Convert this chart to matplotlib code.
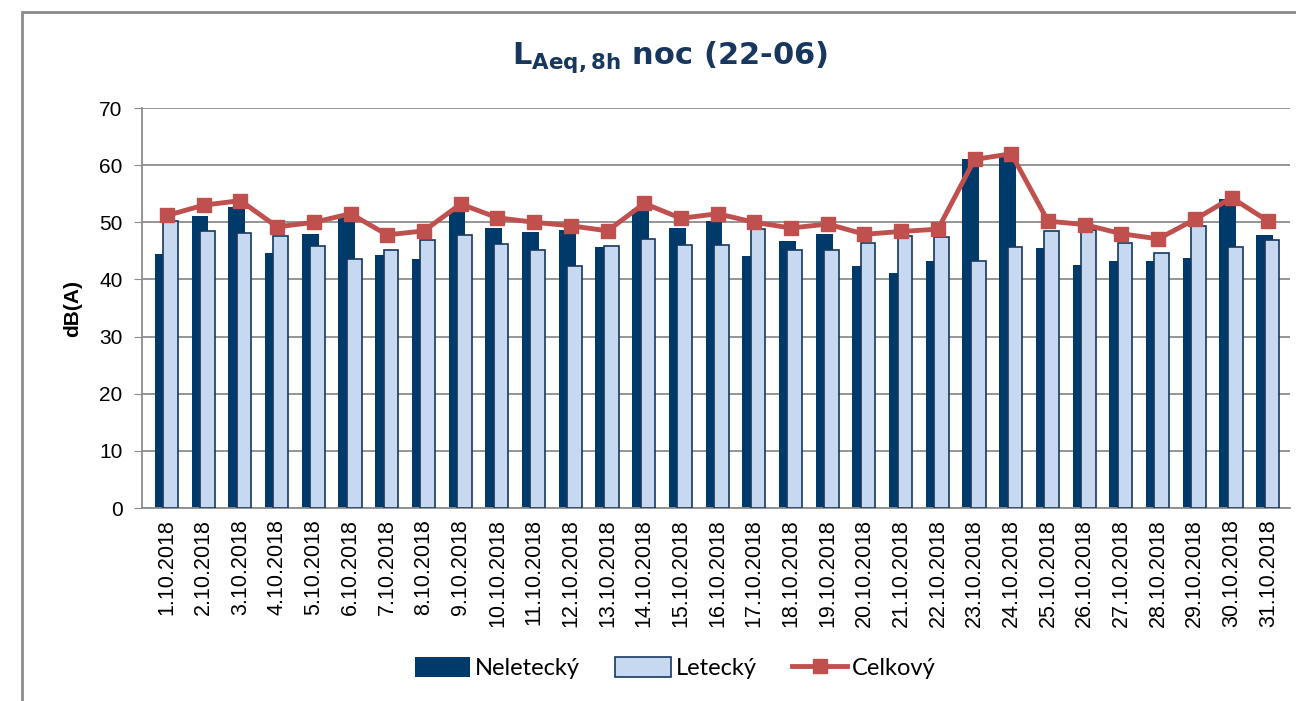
import matplotlib
matplotlib.use("Agg")
import matplotlib.pyplot as plt
from matplotlib.patches import Rectangle
import numpy as np

# dates on the category axis
dates = ["%d.10.2018" % d for d in range(1, 32)]

# LAeq,8h night values, dB(A)
neletecky = [44.5, 51.1, 52.7, 44.6, 48.0, 51.0, 44.3, 43.6, 52.0, 49.0,
             48.3, 48.6, 45.7, 52.3, 49.0, 50.3, 44.1, 46.8, 48.0, 42.3,
             41.2, 43.3, 61.0, 62.0, 45.5, 42.5, 43.2, 43.3, 43.7, 54.0, 47.7]
letecky = [50.2, 48.5, 48.2, 47.6, 45.8, 43.5, 45.2, 46.9, 47.8, 46.2,
           45.2, 42.3, 45.8, 47.0, 46.0, 46.0, 48.8, 45.2, 45.2, 46.4,
           47.6, 47.4, 43.2, 45.7, 48.5, 48.7, 46.4, 44.7, 49.3, 45.6, 46.9]
celkovy = [51.2, 53.0, 53.8, 49.2, 50.0, 51.5, 47.8, 48.5, 53.2, 50.8,
           50.0, 49.4, 48.5, 53.3, 50.7, 51.5, 50.0, 49.0, 49.7, 47.9,
           48.4, 48.8, 61.0, 62.0, 50.2, 49.6, 48.0, 47.1, 50.5, 54.3, 50.2]

dark = "#003A6B"
light = "#C6D9F1"
red = "#C0504D"
grid = "#8C8C8C"

fig = plt.figure(figsize=(12.96, 7.01), dpi=100)
ax = fig.add_axes([0.1096, 0.2753, 0.886, 0.5706])

x = np.arange(len(dates))
b1 = ax.bar(x - 0.1, neletecky, width=0.46, color=dark, zorder=2, label="Neletecký")
b2 = ax.bar(x + 0.1, letecky, width=0.40, color=light, edgecolor="#17375E",
            linewidth=1.2, zorder=3, label="Letecký")
l1, = ax.plot(x, celkovy, color=red, lw=3.5, marker="s", ms=10, zorder=4,
              label="Celkový")

ax.set_ylim(0, 70)
ax.set_yticks(range(0, 71, 10))
ax.set_xlim(-0.68, 30.6)
ax.yaxis.grid(True, color=grid, lw=1.3, zorder=0)
ax.set_axisbelow(True)
for s in ["top", "right"]:
    ax.spines[s].set_visible(False)
ax.spines["left"].set_color(grid)
ax.spines["left"].set_linewidth(1.3)
ax.spines["bottom"].set_color(grid)
ax.spines["bottom"].set_linewidth(1.3)

ax.set_xticks(x)
ax.set_xticklabels(dates, rotation=90, fontsize=15.5, family="Liberation Sans")
ax.tick_params(axis="x", length=0, pad=8)
ax.tick_params(axis="y", labelsize=15, length=6, color=grid, pad=8)
for t in ax.get_yticklabels():
    t.set_family("Liberation Sans")
ax.set_ylabel("dB(A)", fontsize=15, fontweight="bold", labelpad=12,
              family="Liberation Sans")

fig.text(0.517, 0.918, r"L$\mathregular{_{Aeq,8h}}$ noc (22-06)",
         ha="center", va="center", fontsize=22, fontweight="bold",
         color="#17375E")

leg = fig.legend([b1, b2, l1], ["Neletecký", "Letecký", "Celkový"],
                 loc="center", bbox_to_anchor=(0.521, 0.047), ncol=3,
                 frameon=False, handlelength=2.35, handleheight=0.9,
                 columnspacing=1.5, handletextpad=0.2,
                 prop={"family": "Lato", "size": 17})

# outer chart frame
fig.patches.append(Rectangle((0.017, -0.2), 1.2, 1.183, transform=fig.transFigure,
                             fill=False, edgecolor="#8C8C8C", lw=2))

fig.savefig("out.png", dpi=100)
